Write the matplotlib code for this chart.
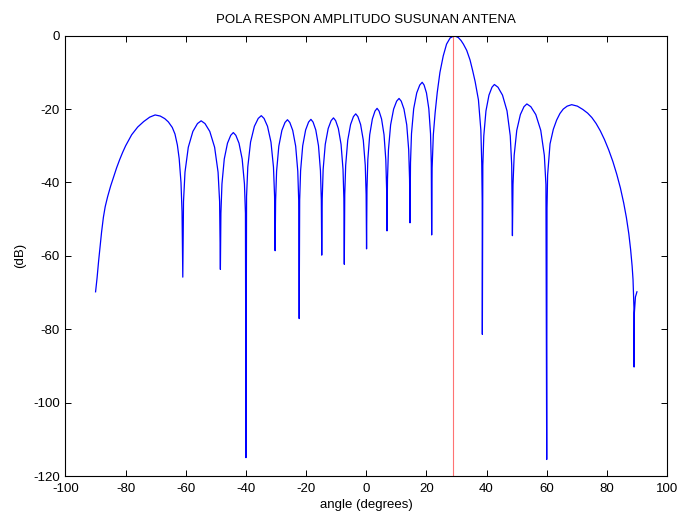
import matplotlib
matplotlib.use("Agg")
import matplotlib.pyplot as plt

plt.rcParams['font.family'] = ['Liberation Sans', 'DejaVu Sans']
plt.rcParams['axes.unicode_minus'] = False

# ---- data ----
angle_deg = [
    -90.0, -89.5, -89.0, -88.5, -88.0, -87.4, -86.8, -86.0, -85.0, -84.0, -83.0, -82.0, -81.0,
    -80.0, -78.0, -76.0, -74.0, -72.0,
    -70.2, -68.5, -67.0, -65.8, -64.5, -63.6, -62.8, -62.2, -61.6, -61.25, -61.0,
    -60.76, -60.27, -59.17, -57.65, -56.12, -54.9, -53.62, -52.02, -50.42, -49.27, -48.76, -48.5,
    -48.33, -47.98, -47.21, -46.14, -45.06, -44.2, -43.36, -42.31, -41.26, -40.5, -40.17, -40.0,
    -39.8, -39.39, -38.47, -37.2, -35.92, -34.9, -33.98, -32.83, -31.68, -30.85, -30.48, -30.3,
    -30.14, -29.81, -29.07, -28.05, -27.02, -26.2, -25.42, -24.45, -23.47, -22.77, -22.46, -22.3,
    -22.14, -21.83, -21.13, -20.16, -19.18, -18.4, -17.68, -16.78, -15.88, -15.23, -14.94, -14.8,
    -14.64, -14.33, -13.63, -12.66, -11.68, -10.9, -10.18, -9.28, -8.38, -7.73, -7.44, -7.3,
    -7.15, -6.84, -6.16, -5.21, -4.26, -3.5, -2.78, -1.88, -0.98, -0.33, -0.04, 0.1,
    0.24, 0.52, 1.15, 2.03, 2.9, 3.6, 4.26, 5.09, 5.91, 6.5, 6.77, 6.9,
    7.06, 7.38, 8.1, 9.1, 10.1, 10.9, 11.63, 12.54, 13.46, 14.11, 14.4, 14.55,
    14.71, 15.04, 15.77, 16.78, 17.79, 18.6, 19.23, 20.02, 20.8, 21.37, 21.62, 21.75,
    21.9, 22.3, 22.9, 23.6, 24.5, 25.6, 26.7, 27.9, 29.3, 30.6, 31.5, 32.3, 33.4, 34.5,
    35.4, 36.2, 37.3, 38.1, 38.4, 38.55, 38.6,
    38.76, 39.08, 39.8, 40.8, 41.8, 42.6, 43.8, 45.3, 46.8, 47.88, 48.36, 48.6,
    48.79, 49.18, 50.04, 51.24, 52.44, 53.4, 54.72, 56.37, 58.02, 59.21, 59.74, 60.0,
    60.1, 60.3, 61.1, 62.2, 63.3, 64.4, 65.5, 66.8, 68.3, 70.2, 72.0, 73.6, 75.0, 76.4,
    77.8, 79.2, 80.6, 82.0, 83.3, 84.5, 85.6, 86.5, 87.3, 87.9, 88.4, 88.7, 89.0,
    89.05, 89.15, 89.5, 90.0,
]
gain_db = [
    -69.8, -66.0, -61.5, -57.5, -53.5, -49.5, -46.6, -43.9, -41.0, -38.5, -36.0, -33.8, -31.8,
    -30.0, -27.0, -24.9, -23.4, -22.2,
    -21.6, -21.9, -22.6, -23.5, -25.0, -26.8, -29.8, -33.5, -40.0, -48.0, -65.8,
    -45.2, -37.2, -30.4, -26.1, -23.95, -23.2, -23.95, -26.1, -30.4, -37.2, -45.2, -63.7,
    -48.4, -40.4, -33.6, -29.3, -27.15, -26.4, -27.15, -29.3, -33.6, -40.4, -48.4, -115.0,
    -43.8, -35.8, -29.0, -24.7, -22.55, -21.8, -22.55, -24.7, -29.0, -35.8, -43.8, -58.6,
    -44.9, -36.9, -30.1, -25.8, -23.65, -22.9, -23.65, -25.8, -30.1, -36.9, -44.9, -77.1,
    -44.8, -36.8, -30.0, -25.7, -23.55, -22.8, -23.55, -25.7, -30.0, -36.8, -44.8, -59.8,
    -44.4, -36.4, -29.6, -25.3, -23.15, -22.4, -23.15, -25.3, -29.6, -36.4, -44.4, -62.3,
    -43.3, -35.3, -28.5, -24.2, -22.05, -21.3, -22.05, -24.2, -28.5, -35.3, -43.3, -58.1,
    -41.8, -33.8, -27.0, -22.7, -20.55, -19.8, -20.55, -22.7, -27.0, -33.8, -41.8, -53.2,
    -39.1, -31.1, -24.3, -20.0, -17.85, -17.1, -17.85, -20.0, -24.3, -31.1, -39.1, -51.0,
    -34.7, -26.7, -19.9, -15.6, -13.45, -12.7, -13.45, -15.6, -19.9, -26.7, -34.7, -54.3,
    -36.0, -27.0, -21.0, -15.5, -10.0, -5.5, -2.3, -0.6, 0.0, -0.5, -1.3, -2.3, -4.0, -6.6,
    -9.6, -12.5, -17.5, -25.7, -34.8, -45.0, -81.4,
    -35.3, -27.3, -20.5, -16.2, -14.05, -13.3, -14.05, -16.2, -20.5, -27.3, -35.3, -54.5,
    -40.6, -32.6, -25.8, -21.5, -19.35, -18.6, -19.35, -21.5, -25.8, -32.6, -40.6, -115.5,
    -47.0, -38.0, -29.5, -25.5, -23.0, -21.2, -20.0, -19.2, -18.8, -19.2, -20.1, -21.1, -22.3, -23.9,
    -25.9, -28.3, -31.1, -34.3, -37.8, -41.5, -45.6, -49.6, -54.0, -58.3, -62.8, -66.5, -74.0,
    -90.3, -75.5, -71.2, -69.8,
]
steer_angle = 29.0
x_ticks = [-100, -80, -60, -40, -20, 0, 20, 40, 60, 80, 100]
y_ticks = [-120, -100, -80, -60, -40, -20, 0]
title_text = "POLA RESPON AMPLITUDO SUSUNAN ANTENA"
x_label = "angle (degrees)"
y_label = "(dB)"

fig = plt.figure(figsize=(6.78, 5.15), dpi=100)
ax = fig.add_axes([0.0966, 0.0757, 0.8872, 0.855])

ax.plot(angle_deg, gain_db, color=(0, 0, 1), linewidth=0.9)
ax.axvline(steer_angle, color=(1, 0.45, 0.45), linestyle='-', linewidth=0.8)

ax.set_xlim(-100, 100)
ax.set_ylim(-120, 0)
ax.set_xticks(x_ticks)
ax.set_yticks(y_ticks)
ax.tick_params(direction='in', top=True, right=True, length=4, width=0.7,
               labelsize=9.5, pad=5)
ax.tick_params(axis='y', pad=4)
for s in ax.spines.values():
    s.set_linewidth(0.8)

ax.set_title(title_text, fontsize=9.5, pad=9)
ax.set_xlabel(x_label, fontsize=9.5, labelpad=3)
ax.set_ylabel(y_label, fontsize=9.5, labelpad=5)

fig.savefig("out.png", dpi=100)
